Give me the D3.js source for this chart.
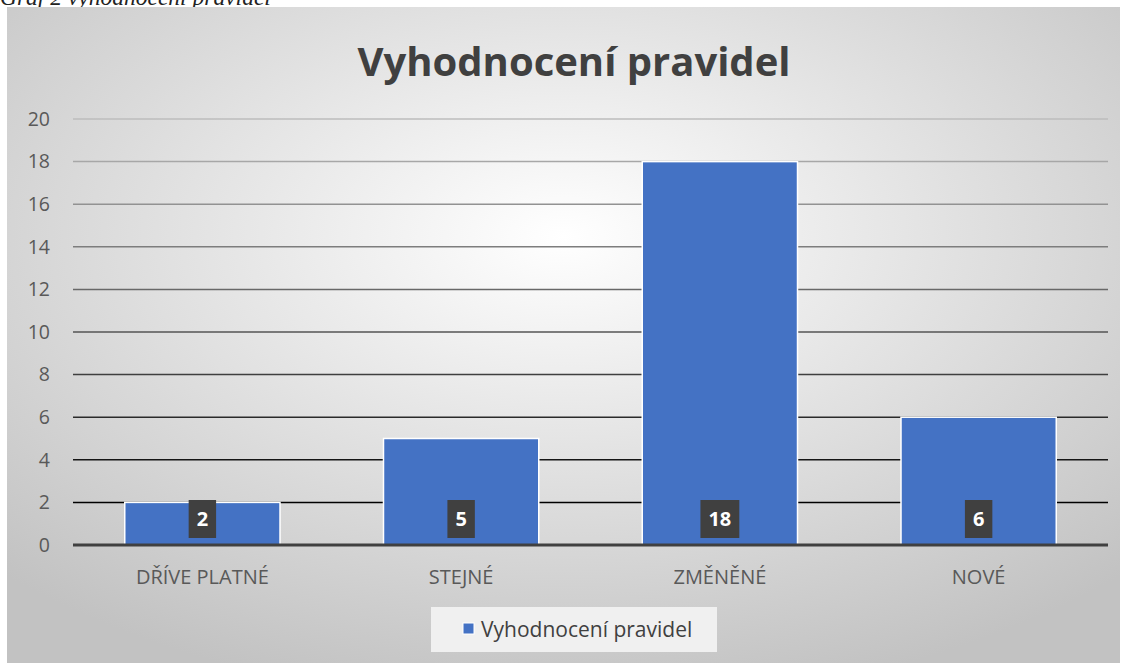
<!DOCTYPE html>
<html><head><meta charset="utf-8">
<script src="https://cdn.jsdelivr.net/npm/d3@7/dist/d3.min.js"></script>
<style>body{margin:0;background:#fff;overflow:hidden}svg{display:block}</style>
</head><body>
<svg id="c" width="1126" height="663"></svg>
<script>
const categories = ["DŘÍVE PLATNÉ", "STEJNÉ", "ZMĚNĚNÉ", "NOVÉ"];
const values = [2, 5, 18, 6];
const yTicks = [0, 2, 4, 6, 8, 10, 12, 14, 16, 18, 20];
const seriesName = "Vyhodnocení pravidel";
const chartTitle = "Vyhodnocení pravidel";
const caption = "Graf 2 vyhodnocení pravidel";

const svg = d3.select("#c");
const W = 1126, H = 663;
const font = "'Open Sans', sans-serif";

const defs = svg.append("defs");
const rg = defs.append("radialGradient").attr("id","bg")
  .attr("cx","50%").attr("cy","35%").attr("r","72%");
rg.append("stop").attr("offset","0%").attr("stop-color","#ffffff");
rg.append("stop").attr("offset","100%").attr("stop-color","#c2c2c2");

svg.append("text").attr("x",0).attr("y",5)
  .attr("font-family","'Liberation Serif', serif").attr("font-style","italic")
  .attr("font-size",23.5).attr("fill","#222").text(caption);

svg.append("rect").attr("x",7).attr("y",7).attr("width",1113).attr("height",H-7)
  .attr("fill","url(#bg)");

const margin = {left:73, right:1108, top:119, bottom:545};
const x = d3.scaleBand().domain(categories).range([margin.left, margin.right])
  .paddingInner(0.4).paddingOuter(0.2);
const y = d3.scaleLinear().domain([0,20]).range([margin.bottom, margin.top]);

const gridColor = d3.scaleLinear().domain([2,20]).range(["#000000","#bcbcbc"]);

const yAxis = d3.axisLeft(y).tickValues(yTicks).tickSize(0).tickPadding(0);
const gy = svg.append("g").attr("transform",`translate(50,0)`).call(yAxis);
gy.select(".domain").remove();
gy.selectAll("text").attr("font-family",font).attr("font-size",19.5).attr("fill","#595959");

svg.append("g").selectAll("line").data(yTicks.filter(d=>d>0)).join("line")
  .attr("x1",margin.left).attr("x2",margin.right)
  .attr("y1",d=>y(d)).attr("y2",d=>y(d))
  .attr("stroke",d=>gridColor(d)).attr("stroke-width",1.5);

svg.append("g").selectAll("rect").data(values).join("rect")
  .attr("x",(d,i)=>x(categories[i])).attr("width",x.bandwidth())
  .attr("y",d=>y(d)).attr("height",d=>y(0)-y(d))
  .attr("fill","#4472c4").attr("stroke","#ffffff").attr("stroke-width",1.5);

svg.append("line").attr("x1",margin.left).attr("x2",margin.right)
  .attr("y1",y(0)).attr("y2",y(0)).attr("stroke","#404040").attr("stroke-width",3);

const lbl = svg.append("g").selectAll("g").data(values).join("g")
  .attr("transform",(d,i)=>`translate(${x(categories[i])+x.bandwidth()/2},${y(0)-26})`);
lbl.append("text").attr("text-anchor","middle").attr("dy","0.36em")
  .attr("font-family",font).attr("font-weight","bold").attr("font-size",20).attr("fill","#fff")
  .text(d=>d)
  .each(function(){
    const bb=this.getBBox();
    d3.select(this.parentNode).insert("rect","text")
      .attr("x",-bb.width/2-8).attr("y",-19).attr("width",bb.width+16).attr("height",38)
      .attr("fill","#404040");
  });

const xAxis = d3.axisBottom(x).tickSize(0).tickPadding(0);
const gx = svg.append("g").attr("transform",`translate(0,${y(0)+39})`).call(xAxis);
gx.select(".domain").remove();
gx.selectAll("text").attr("font-family",font).attr("font-size",20).attr("fill","#595959").attr("dy",0);

svg.append("text").attr("x",574).attr("y",76).attr("text-anchor","middle")
  .attr("font-family",font).attr("font-weight","bold").attr("font-size",40).attr("fill","#404040")
  .text(chartTitle);

const lg = svg.append("g");
lg.append("rect").attr("x",431).attr("y",607).attr("width",286).attr("height",45).attr("fill","#f0f0f0");
lg.append("rect").attr("x",463).attr("y",623).attr("width",11).attr("height",11).attr("fill","#4472c4").attr("stroke","#fff").attr("stroke-width",1);
lg.append("text").attr("x",481).attr("y",637).attr("font-family",font).attr("font-size",21).attr("fill","#404040").text(seriesName);
</script>
</body></html>
